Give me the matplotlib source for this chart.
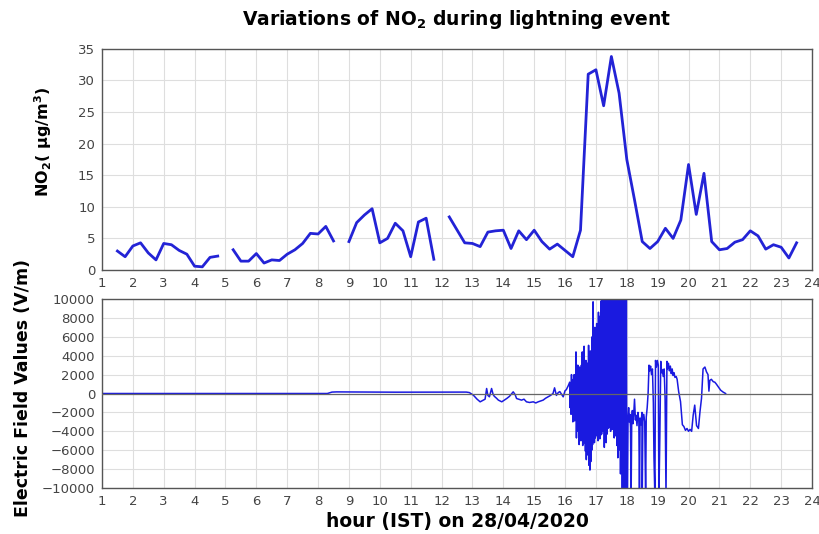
import numpy as np
import matplotlib
matplotlib.use("Agg")
import matplotlib.pyplot as plt

plt.rcParams['font.family'] = ['DejaVu Sans']
plt.rcParams['mathtext.default'] = 'regular'

# NO2 hourly (15 min) values, nan = missing sample
no2_hours = [1.5, 1.75, 2.0, 2.25, 2.5, 2.75, 3.0, 3.25, 3.5, 3.75, 4.0, 4.25, 4.5, 4.75, 5.0,
             5.25, 5.5, 5.75, 6.0, 6.25, 6.5, 6.75, 7.0, 7.25, 7.5, 7.75, 8.0, 8.25, 8.5, 8.75,
             9.0, 9.25, 9.5, 9.75, 10.0, 10.25, 10.5, 10.75, 11.0, 11.25, 11.5, 11.75, 12.0,
             12.25, 12.75, 13.0, 13.25, 13.5, 13.75, 14.0, 14.25, 14.5, 14.75, 15.0, 15.25,
             15.5, 15.75, 16.0, 16.25, 16.5, 16.75, 17.0, 17.25, 17.5, 17.75, 18.0, 18.25,
             18.5, 18.75, 19.0, 19.25, 19.5, 19.75, 20.0, 20.25, 20.5, 20.75, 21.0, 21.25,
             21.5, 21.75, 22.0, 22.25, 22.5, 22.75, 23.0, 23.25, 23.5]
no2_values = [3.0, 2.1, 3.8, 4.3, 2.7, 1.6, 4.2, 4.0, 3.1, 2.5, 0.6, 0.5, 2.0, 2.2, np.nan,
              3.2, 1.4, 1.4, 2.6, 1.1, 1.6, 1.5, 2.5, 3.2, 4.2, 5.8, 5.7, 6.9, 4.6, np.nan,
              4.5, 7.5, 8.7, 9.7, 4.3, 5.0, 7.4, 6.2, 2.1, 7.6, 8.2, 1.7, np.nan,
              8.4, 4.3, 4.2, 3.7, 6.0, 6.2, 6.3, 3.4, 6.2, 4.8, 6.3, 4.5,
              3.3, 4.1, 3.1, 2.1, 6.3, 31.0, 31.7, 26.0, 33.8, 28.0, 17.5, 11.1,
              4.5, 3.4, 4.5, 6.6, 5.0, 7.9, 16.7, 8.8, 15.3, 4.5, 3.2, 3.4,
              4.4, 4.8, 6.2, 5.4, 3.3, 4.0, 3.6, 1.9, 4.3]

# electric field: quiet part
ef_quiet_t = [1.0, 8.3, 8.45, 8.6, 10.5, 12.8]
ef_quiet_v = [0, 0, 150, 170, 140, 150]

# before the storm
ef_pre_t = [12.9, 13.03, 13.15, 13.25, 13.35, 13.41, 13.46, 13.5, 13.55, 13.62, 13.67, 13.71,
            13.78, 13.84, 13.95, 14.03, 14.11, 14.2, 14.32, 14.38, 14.43, 14.5, 14.59, 14.67,
            14.75, 14.85, 14.97, 15.05, 15.13, 15.2, 15.29, 15.37, 15.45, 15.53, 15.61, 15.66,
            15.72, 15.78, 15.83, 15.9, 15.94, 16.0, 16.04, 16.1]
ef_pre_v = [100, -176, -600, -880, -700, -600, 530, -200, -350, 530, -100, -300,
            -500, -700, -880, -700, -530, -300, 176, -100, -530, -600, -700, -600,
            -880, -950, -880, -1000, -880, -800, -700, -500, -350, -200, 0, 600,
            -200, 100, 200, -150, -350, 300, 400, 800]

# dense storm oscillation 16.15 - 18.0 h
ef_storm_start, ef_storm_end = 16.15, 18.0
ef_storm_v = [1200, -1500, 800, -2200, 2000, -1800, 600,
              -3000, 1500, -2500, 2000, -2900, 900, -2000,
              4400, -4700, 2500, -4000, 3000, -3500, 1800,
              -5400, 2800, -4500, 2000, -5000, 3000, -3800,
              4400, -5500, 2500, -4800, 5000, -5200, 3000,
              -6100, 3500, -7000, 2800, -6500, 3200, -5600,
              5100, -7600, 4000, -8100, 4500, -7200, 3800,
              -6000, 6000, -5400, 9700, -4800, 6400, -5200,
              7000, -4700, 6500, -4000, 7400, -4500, 6200,
              -5000, 8600, -4200, 7700, -4800, 8200, -4400,
              9800, -4300, 10500, -3800, 9500, -4000, 11000,
              -5700, 10500, -4600, 9800, -5200, 12000, -4300,
              10800, -3700, 9600, -3300, 11500, -3600, 10200,
              -4000, 12000, -3500, 10400, -3800, 9900, -3200,
              11000, -4700, 10000, -4200, 12000, -4500, 9500,
              -5500, 10800, -6800, 9800, -6000, 11500, -5800,
              10500, -8500, 9600, -7500, 12000, -11000, 10000,
              -9000, 11000, -11000, 9000, -12000, 10500, -11000, 12000, -12000]

# after the storm
ef_post_t = [18.02, 18.04, 18.06, 18.08, 18.1, 18.12, 18.14, 18.16, 18.18, 18.2, 18.22, 18.25,
             18.28, 18.3, 18.33, 18.36, 18.39, 18.41, 18.43, 18.46, 18.49, 18.5, 18.52, 18.55,
             18.58, 18.61, 18.63, 18.66, 18.69, 18.72, 18.74, 18.77, 18.8, 18.83, 18.86, 18.88,
             18.91, 18.93, 18.96, 18.99, 19.02, 19.04, 19.07, 19.1, 19.13, 19.15, 19.18, 19.21,
             19.24, 19.27, 19.3, 19.32, 19.35, 19.38, 19.41, 19.44, 19.47, 19.5, 19.53, 19.56,
             19.6, 19.63, 19.68, 19.74, 19.8, 19.85, 19.9, 19.95, 20.0, 20.05, 20.1, 20.15,
             20.2, 20.26, 20.32, 20.37, 20.42, 20.47, 20.53, 20.58, 20.63, 20.66, 20.69, 20.74,
             20.8, 20.85, 20.9, 20.96, 21.04, 21.12, 21.2]
ef_post_v = [-12000, -2500, -1500, -3000, -2200, -3600, -11000, -2600, -1800, -3200, -2400, -600,
             -2800, -2300, -3400, -2000, -2900, -11000, -2600, -3300, -2000, -11000, -2800, -2200,
             -3000, -11000, -2500, -1500, 0, 3000, 2400, 2900, 2000, 2600, -1000, -6800,
             -11000, 3500, 2800, 3500, 3000, -11000, -4700, 3400, 2200, 2500, 1800, 2600,
             -500, -11000, 3400, 2600, 3200, 2400, 2900, 2100, 2600, 1900, 2200, 1700,
             1800, 1500, 200, -860, -3300, -3500, -3900, -3700, -4000, -3800, -4000, -2300,
             -1230, -3400, -3700, -1940, -500, 2600, 2800, 2300, 2000, 250, 1400, 1500,
             1250, 1200, 1000, 720, 350, 150, 0]

hour_ticks = list(range(1, 25))
no2_ticks = [0, 5, 10, 15, 20, 25, 30, 35]
ef_ticks = list(range(-10000, 10001, 2000))

storm_t = np.linspace(ef_storm_start, ef_storm_end, len(ef_storm_v))
ef_t = np.concatenate([ef_quiet_t, ef_pre_t, storm_t, ef_post_t])
ef_v = np.concatenate([ef_quiet_v, ef_pre_v, ef_storm_v, ef_post_v])

fig = plt.figure(figsize=(8.19, 5.34), dpi=100)
ax1 = fig.add_axes([0.1245, 0.4944, 0.867, 0.414])
ax2 = fig.add_axes([0.1245, 0.0861, 0.867, 0.354])

frame_col = '#555555'
grid_col = '#dedede'
tick_col = '#444444'

for ax in (ax1, ax2):
    ax.set_xlim(1, 24)
    ax.set_xticks(hour_ticks)
    ax.grid(True, color=grid_col, linewidth=0.8)
    ax.set_axisbelow(True)
    ax.tick_params(length=0, labelsize=9.5, labelcolor=tick_col, pad=5)
    for s in ax.spines.values():
        s.set_color(frame_col)
        s.set_linewidth(1.0)

ax1.plot(no2_hours, no2_values, color='#2323d6', linewidth=2.0)
ax1.set_ylim(0, 35)
ax1.set_yticks(no2_ticks)
ax1.set_ylabel('NO$_2$( µg/m$^3$)', fontsize=11.5, fontweight='bold')
ax1.yaxis.set_label_coords(-0.068, 0.58)
ax1.set_title('Variations of NO$_2$ during lightning event', fontsize=13.5,
              fontweight='bold', pad=17)

ax2.plot(ef_t, ef_v, color='#1a1ae0', linewidth=1.1)
ax2.axhline(0, color='#666666', linewidth=0.9, zorder=3)
ax2.set_ylim(-10000, 10000)
ax2.set_yticks(ef_ticks)
ax2.set_ylabel('Electric Field Values (V/m)', fontsize=12.5, fontweight='bold')
ax2.yaxis.set_label_coords(-0.098, 0.53)
ax2.set_xlabel('hour (IST) on 28/04/2020', fontsize=13.5, fontweight='bold', labelpad=3)

fig.savefig('out.png', dpi=100)
